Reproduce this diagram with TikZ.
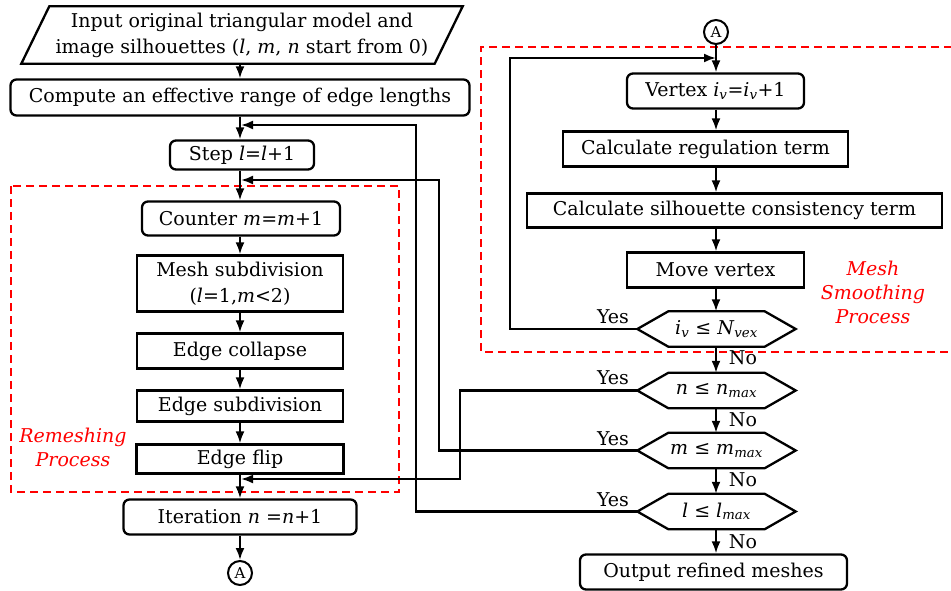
\documentclass[tikz,border=0pt]{standalone}
\usepackage{fontspec}
\setmainfont{DejaVu Serif}
\usetikzlibrary{arrows.meta,calc}
\begin{document}
\begin{tikzpicture}[x=1pt,y=-1pt,
  font=\fontsize{19}{26}\selectfont,
  rbox/.style={draw,line width=2.3pt,inner sep=0pt,align=center},
  rnd/.style={rbox,rounded corners=6pt},
  hexnode/.style={minimum width=158pt,minimum height=35pt,inner sep=0pt},
  ln/.style={line width=2.3pt},
  arr/.style={line width=2.1pt,-{Latex[length=12pt,width=9pt]}},
  conn/.style={draw,circle,line width=2pt,minimum size=24pt,inner sep=0pt,font=\fontsize{15}{15}\selectfont},
  lbl/.style={inner sep=0pt},
  rlbl/.style={text=red,font=\itshape\fontsize{19}{24}\selectfont,align=center,inner sep=0pt},
  dsh/.style={draw=red,line width=2.2pt,dash pattern=on 8pt off 5pt}]
\useasboundingbox (0,0) rectangle (951,590);

% red dashed regions
\draw[dsh] (11,186) rectangle (399,492);
\draw[dsh] (952,47) -- (481,47) -- (481,352) -- (952,352);

% left column
\node[minimum width=441pt,minimum height=57pt,inner sep=0pt,align=center] (in) at (242,35)
  {Input original triangular model and\\image silhouettes (\textit{l}, \textit{m}, \textit{n} start from 0)};
\draw[ln] ($(in.north west)+(28,0)$) -- (in.north east) -- ($(in.south east)+(-28,0)$) -- (in.south west) -- cycle;
\node[rnd,minimum width=459pt,minimum height=36pt] (comp) at (240,97.5) {Compute an effective range of edge lengths};
\node[rnd,minimum width=144pt,minimum height=29pt] (step) at (242,155) {Step \textit{l}=\textit{l}+1};
\node[rnd,minimum width=198pt,minimum height=34pt] (cnt) at (241,218.5) {Counter \textit{m}=\textit{m}+1};
\node[rbox,minimum width=206pt,minimum height=56pt] (msub) at (240,283.5) {Mesh subdivision\\(\textit{l}=1,\textit{m}<2)};
\node[rbox,minimum width=206pt,minimum height=35pt] (ecol) at (240,351) {Edge collapse};
\node[rbox,minimum width=206pt,minimum height=31pt] (esub) at (240,406) {Edge subdivision};
\node[rbox,minimum width=207pt,minimum height=29pt] (eflip) at (240,459) {Edge flip};
\node[rnd,minimum width=233pt,minimum height=35pt] (iter) at (240,517) {Iteration \textit{n} =\textit{n}+1};
\node[conn] (A1) at (240,573) {A};

% right column
\node[conn] (A2) at (716,32) {A};
\node[rnd,minimum width=177pt,minimum height=35pt] (vert) at (715.5,91) {Vertex \textit{i}\textsubscript{\textit{v}}=\textit{i}\textsubscript{\textit{v}}+1};
\node[rbox,minimum width=285pt,minimum height=35pt] (reg) at (705.5,149) {Calculate regulation term};
\node[rbox,minimum width=415pt,minimum height=34pt] (sil) at (734.5,210.5) {Calculate silhouette consistency term};
\node[rbox,minimum width=177pt,minimum height=35pt] (mv) at (715.5,270) {Move vertex};
\node[hexnode] (hiv) at (716.5,329) {\textit{i}\textsubscript{\textit{v}} ≤ \textit{N}\textsubscript{\textit{vex}}};
\node[hexnode] (hn) at (716.5,390.5) {\textit{n} ≤ \textit{n}\textsubscript{\textit{max}}};
\node[hexnode] (hm) at (716.5,450.5) {\textit{m} ≤ \textit{m}\textsubscript{\textit{max}}};
\node[hexnode] (hl) at (716.5,511.5) {\textit{l} ≤ \textit{l}\textsubscript{\textit{max}}};
\foreach \h in {hiv,hn,hm,hl}
  \draw[ln] (\h.west) -- ($(\h.north west)+(31,0)$) -- ($(\h.north east)+(-31,0)$) -- (\h.east)
    -- ($(\h.south east)+(-31,0)$) -- ($(\h.south west)+(31,0)$) -- cycle;
\node[rnd,minimum width=267pt,minimum height=35pt] (out) at (713.5,572) {Output refined meshes};

% trunk arrows left
\draw[arr] (in.south -| A1) -- (comp.north -| A1);
\draw[arr] (comp.south -| A1) -- (step.north -| A1);
\draw[arr] (step.south -| A1) -- (cnt.north -| A1);
\draw[arr] (cnt.south -| A1) -- (msub.north -| A1);
\draw[arr] (msub.south -| A1) -- (ecol.north -| A1);
\draw[arr] (ecol.south -| A1) -- (esub.north -| A1);
\draw[arr] (esub.south -| A1) -- (eflip.north -| A1);
\draw[arr] (eflip.south -| A1) -- (iter.north -| A1);
\draw[arr] (iter.south -| A1) -- (A1);

% trunk arrows right
\draw[arr] (A2) -- (vert.north -| A2);
\draw[arr] (vert.south -| A2) -- (reg.north -| A2);
\draw[arr] (reg.south -| A2) -- (sil.north -| A2);
\draw[arr] (sil.south -| A2) -- (mv.north -| A2);
\draw[arr] (mv.south -| A2) -- (hiv.north -| A2);
\draw[arr] (hiv.south -| A2) -- (hn.north -| A2);
\draw[arr] (hn.south -| A2) -- (hm.north -| A2);
\draw[arr] (hm.south -| A2) -- (hl.north -| A2);
\draw[arr] (hl.south -| A2) -- (out.north -| A2);

% loop-back connectors
\coordinate (jv) at (716,58);
\coordinate (jl) at (241,125);
\coordinate (jm) at (241,180);
\coordinate (jn) at (241,479);
\coordinate (xv) at (510,0);
\coordinate (xl) at (416,0);
\coordinate (xm) at (439,0);
\coordinate (xn) at (460,0);
\draw[arr] (hiv.west) -- (hiv.west -| xv) |- (jv);
\draw[arr] (hl.west) -- (hl.west -| xl) |- (jl);
\draw[arr] (hm.west) -- (hm.west -| xm) |- (jm);
\draw[arr] (hn.west) -- (hn.west -| xn) |- (jn);

% Yes / No labels
\node[lbl] (y1) at (613,317) {Yes};
\node[lbl] (y2) at (613,378) {Yes};
\node[lbl] (y3) at (613,439) {Yes};
\node[lbl] (y4) at (613,500) {Yes};
\node[lbl] (n1) at (743,358) {No};
\node[lbl] (n2) at (743,420) {No};
\node[lbl] (n3) at (743,480) {No};
\node[lbl] (n4) at (743,542) {No};

% region labels
\node[rlbl] (msp) at (873,292) {Mesh\\Smoothing\\Process};
\node[rlbl] (rp) at (73,447) {Remeshing\\Process};
\end{tikzpicture}
\end{document}
